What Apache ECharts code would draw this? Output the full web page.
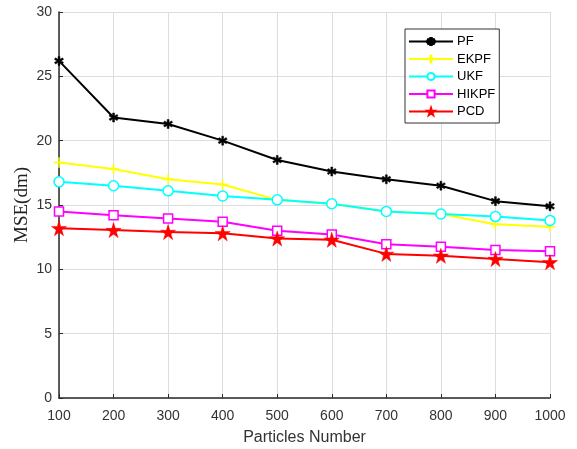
<!DOCTYPE html>
<html>
<head>
<meta charset="utf-8">
<script src="https://cdn.jsdelivr.net/npm/echarts@6/dist/echarts.min.js"></script>
<style>html,body{margin:0;padding:0;background:#fff;}#c{width:577px;height:449px;}</style>
</head>
<body>
<div id="c"></div>
<script>
var particles = [100, 200, 300, 400, 500, 600, 700, 800, 900, 1000];
var pf    = [26.2, 21.8, 21.3, 20.0, 18.5, 17.6, 17.0, 16.5, 15.3, 14.9];
var ekpf  = [18.3, 17.8, 17.0, 16.6, 15.4, 15.1, 14.5, 14.3, 13.5, 13.3];
var ukf   = [16.8, 16.5, 16.1, 15.7, 15.4, 15.1, 14.5, 14.3, 14.1, 13.8];
var hikpf = [14.5, 14.2, 13.95, 13.7, 13.0, 12.7, 11.95, 11.75, 11.5, 11.4];
var pcd   = [13.2, 13.05, 12.9, 12.8, 12.4, 12.3, 11.2, 11.05, 10.8, 10.55];

function pairs(v){ return particles.map(function(x,i){ return [x, v[i]]; }); }

var starPath = 'path://M50,0 L61,35 L98,35 L68,57 L79,91 L50,70 L21,91 L32,57 L2,35 L39,35 Z';
var plusPath = 'path://M45,0 L55,0 L55,45 L100,45 L100,55 L55,55 L55,100 L45,100 L45,55 L0,55 L0,45 L45,45 Z';
var astPath = 'path://M40,0 L60,0 L60,33 L88,16 L98,34 L70,50 L98,66 L88,84 L60,67 L60,100 L40,100 L40,67 L12,84 L2,66 L30,50 L2,34 L12,16 L40,33 Z';

var chart = echarts.init(document.getElementById('c'));
function mk(name, data, color, symbol, size, filled){
  return {
    name: name, type: 'line', data: pairs(data),
    symbol: symbol, symbolSize: size,
    lineStyle: {color: color, width: 2},
    itemStyle: {color: filled ? color : '#fff', borderColor: color, borderWidth: filled ? 0.5 : 1.5},
    emphasis: {disabled: true},
    z: 2
  };
}
var sans = 'Liberation Sans, Arial, sans-serif';
chart.setOption({
  animation: false,
  backgroundColor: '#fff',
  grid: {left: 59, right: 27, top: 12, bottom: 51, outerBoundsMode: 'none', containLabel: false},
  legend: {
    orient: 'vertical', left: 405, top: 29,
    backgroundColor: '#fff',
    borderColor: '#333', borderWidth: 1,
    padding: [6, 4, 5, 3],
    itemWidth: 44, itemHeight: 9, itemGap: 4.5,
    textStyle: {fontFamily: sans, fontSize: 13, color: '#000', padding: [0, 0, 0, -1]},
    data: ['PF', 'EKPF', 'UKF', 'HIKPF', 'PCD']
  },
  xAxis: {
    type: 'value', min: 100, max: 1000, interval: 100,
    name: 'Particles Number', nameLocation: 'middle', nameGap: 32,
    nameTextStyle: {fontFamily: sans, fontSize: 16, color: '#333'},
    axisLine: {lineStyle: {color: '#2a2a2a', width: 1.5}},
    axisTick: {inside: true, length: 4, lineStyle: {color: '#2a2a2a'}},
    axisLabel: {fontFamily: sans, fontSize: 14, color: '#333', margin: 11, formatter: function(v){ return String(v); }},
    splitLine: {show: true, lineStyle: {color: '#dddddd', width: 1}}
  },
  yAxis: {
    type: 'value', min: 0, max: 30, interval: 5,
    name: 'MSE(dm)', nameLocation: 'middle', nameGap: 27, nameMoveOverlap: false,
    nameTextStyle: {fontFamily: 'Liberation Serif, Times New Roman, serif', fontSize: 19, color: '#222'},
    axisLine: {show: true, lineStyle: {color: '#2a2a2a', width: 1.5}},
    axisTick: {show: true, inside: true, length: 4, lineStyle: {color: '#2a2a2a'}},
    axisLabel: {fontFamily: sans, fontSize: 14, color: '#333', margin: 7},
    splitLine: {show: true, lineStyle: {color: '#dddddd', width: 1}}
  },
  series: [
    mk('PF', pf, '#000000', astPath, 9, true),
    mk('EKPF', ekpf, '#ffff00', plusPath, 10, true),
    mk('UKF', ukf, '#00ffff', 'circle', 10, false),
    mk('HIKPF', hikpf, '#ff00ff', 'rect', 9, false),
    mk('PCD', pcd, '#ff0000', starPath, 15, true)
  ]
});
</script>
</body>
</html>
